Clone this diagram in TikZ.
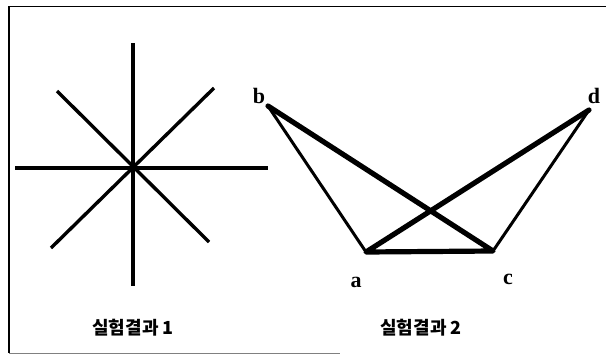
\documentclass[tikz,border=0pt]{standalone}
\usepackage{fontspec}
\setmainfont{Liberation Serif}
\newfontfamily\kr{Noto Sans CJK KR}
\usetikzlibrary{positioning}
\tikzset{
  ray/.style={line width=3.4pt},
  heavy/.style={line width=5.2pt,line cap=round,line join=round},
  light/.style={line width=3pt,line cap=round},
  vlabel/.style={font=\bfseries\fontsize{22}{22}\selectfont,inner sep=0pt},
  caption/.style={font=\kr\bfseries\fontsize{18}{18}\selectfont,inner sep=0pt}
}
\begin{document}
\begin{tikzpicture}[x=1pt,y=-1pt]
			\useasboundingbox (0,0) rectangle (606,354);
			\draw[line width=1.6pt] (606,6.5)--(9,6.5)--(9,353);
			\draw[line width=0.8pt,gray] (9,353)--(340,353);
			% result 1
			\coordinate (o) at (133,168);
			\foreach \p/\q in {{133,43}/{133,286}, {15,168}/{268,168}, {57,91}/{209,242}, {214,88}/{51,248}}
				\draw[ray] (\p)--(\q);
			\node[caption] (cap1) at (133,328) {실험결과 1};
			% result 2
			\coordinate (a) at (366,252);
			\coordinate (b) at (268,106);
			\coordinate (c) at (493,251);
			\coordinate (d) at (589,110);
			\draw[light] (b)--(a) (d)--(c);
			\draw[heavy] (b)--(c)--(a)--(d);
			\node[vlabel] (la) at (356,282) {a};
			\node[vlabel] (lb) at (259,96) {b};
			\node[vlabel] (lc) at (508,279) {c};
			\node[vlabel] (ld) at (594,96) {d};
			\node[caption] (cap2) at (421,328) {실험결과 2};
		\end{tikzpicture}
\end{document}
